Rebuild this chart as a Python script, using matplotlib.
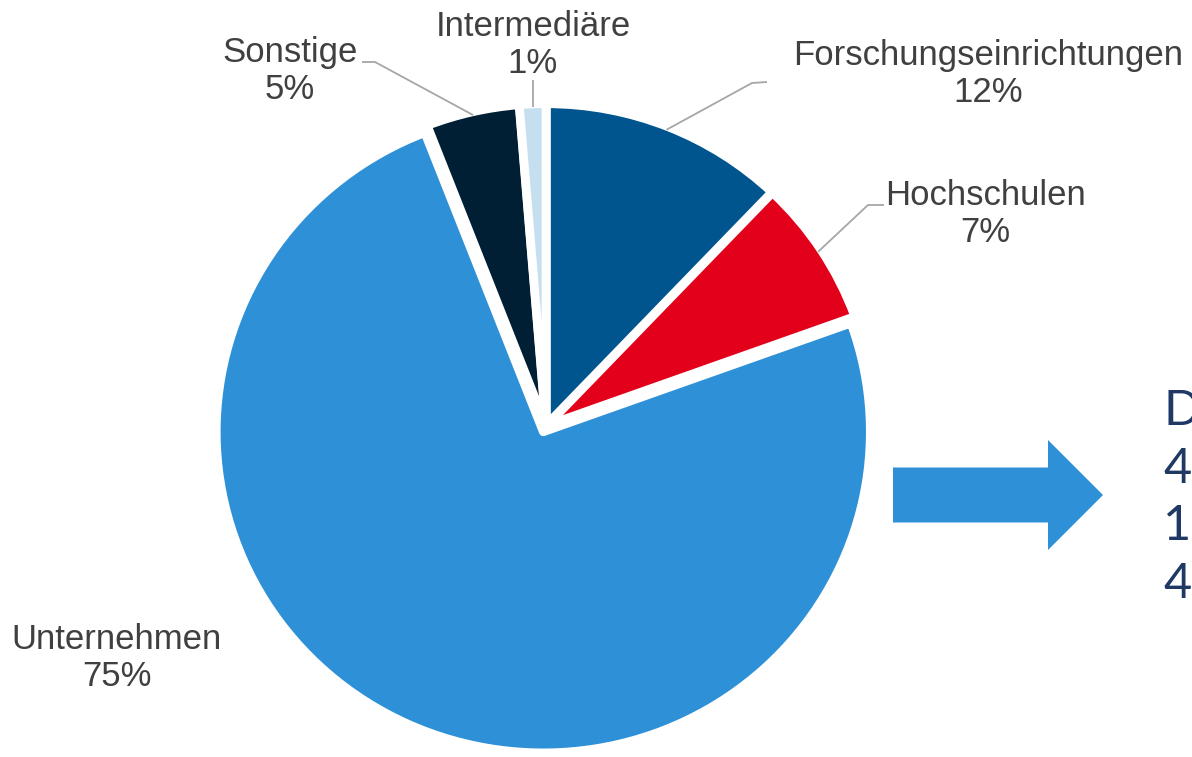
import matplotlib
matplotlib.use("Agg")
import numpy as np
import matplotlib.pyplot as plt
from matplotlib.patches import FancyArrow

# data (clockwise from 12 o'clock)
categories = ["Forschungseinrichtungen", "Hochschulen", "Unternehmen", "Sonstige", "Intermediäre"]
shares = [12.1, 7.4, 74.6, 4.6, 1.3]
colors = ["#00558f", "#e2001a", "#2e91d8", "#001f35", "#c6dff0"]
explode = [0.004, 0.004, 0.02, 0.004, 0.004]

# cut-off text on the right edge
right_lines = ["D", "4", "1", "4"]

W, H = 1192, 757
fig = plt.figure(figsize=(W / 100, H / 100), dpi=100)

# pie axes (pixel geometry of the reference)
cx, cy = 546, 426
rx, ry = 327, 321
pad = 1.08
ax_pie = fig.add_axes([(cx - rx * pad) / W, (H - cy - ry * pad) / H,
                       2 * rx * pad / W, 2 * ry * pad / H])
wedges, _ = ax_pie.pie(shares, colors=colors, startangle=90, counterclock=False,
                       radius=1.0, explode=explode,
                       wedgeprops=dict(edgecolor="white", linewidth=6.2,
                                       joinstyle="round"))
ax_pie.set_aspect("auto")
ax_pie.set_xlim(-pad, pad)
ax_pie.set_ylim(-pad, pad)
ax_pie.axis("off")

# overlay axes in pixel coords for labels and arrow
ax = fig.add_axes([0, 0, 1, 1])
ax.set_xlim(0, W)
ax.set_ylim(H, 0)
ax.axis("off")
ax.patch.set_alpha(0)

def wedge_point(w, r=1.0):
    ang = np.deg2rad((w.theta1 + w.theta2) / 2)
    px, py = w.center
    disp = ax_pie.transData.transform((px + r * np.cos(ang), py + r * np.sin(ang)))
    return ax.transData.inverted().transform(disp)

label_pos = {
    "Forschungseinrichtungen": (988, 74),
    "Hochschulen": (985, 214),
    "Unternehmen": (117, 658),
    "Sonstige": (290, 71),
    "Intermediäre": (533, 45),
}
# leader line elbows near the labels (None = straight up)
leaders = {
    "Forschungseinrichtungen": [(752, 83), (767, 82)],
    "Hochschulen": [(868, 205), (884, 205)],
    "Sonstige": [(375, 62), (362, 62)],
    "Intermediäre": None,
}

tot = sum(shares)
for w, cat, val in zip(wedges, categories, shares):
    x, y = label_pos[cat]
    ax.text(x, y, f"{cat}\n{val / tot * 100:.0f}%", ha="center", va="center",
            fontsize=25, color="#404040", family="Liberation Sans", linespacing=1.15)
    if cat in leaders:
        p0 = wedge_point(w, 0.99)
        elbows = leaders[cat] or [(p0[0], 80)]
        xs, ys = zip(*([tuple(p0)] + elbows))
        ax.plot(xs, ys, color="#a6a6a6", lw=1.3, solid_capstyle="butt")

# block arrow
ax.add_patch(FancyArrow(893, 495, 210, 0, width=55, head_width=110, head_length=55,
                        length_includes_head=True, color="#2e91d8", lw=0))

for i, t in enumerate(right_lines):
    ax.text(1163, 425 + i * 57.7, t, ha="left", va="baseline", fontsize=35,
            color="#1f3864", family="Lato")

fig.savefig("out.png", dpi=100)
